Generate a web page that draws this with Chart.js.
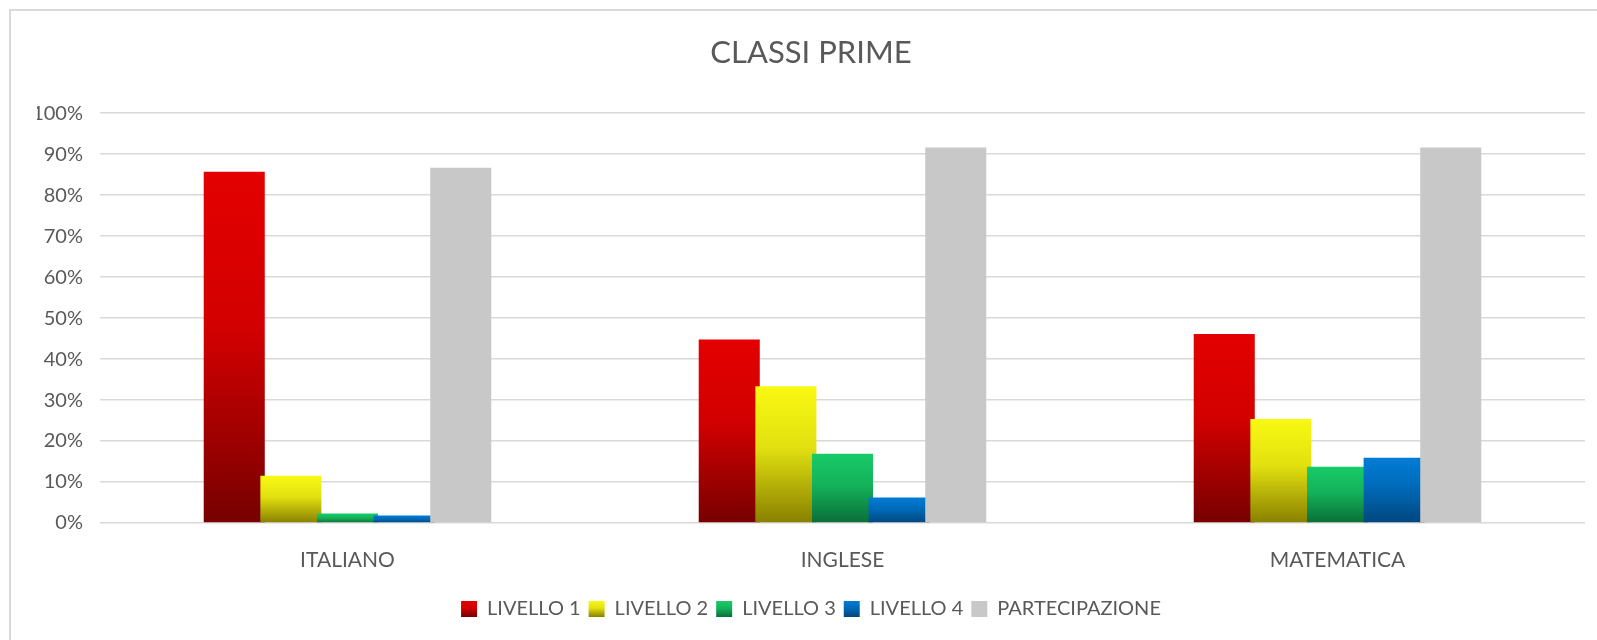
<!DOCTYPE html>
<html lang="it">
<head>
    <meta charset="UTF-8">
    <title>Classi prime</title>
    <script src="https://cdn.jsdelivr.net/npm/chart.js"></script>
    <style>
        html, body {
            margin: 0;
            padding: 0;
            background: #ffffff;
            overflow: hidden;
        }
        .frame {
            position: absolute;
            left: 9px;
            top: 9px;
            width: 1600px;
            height: 640px;
            border-left: 2px solid #d9d9d9;
            border-top: 2px solid #d9d9d9;
        }
        .chart-box {
            position: relative;
            width: 1574px;
            height: 618px;
        }
    </style>
</head>
<body>
    <div class="frame">
        <div class="chart-box">
            <canvas id="classiChart"></canvas>
        </div>
    </div>

    <script>
        // Dati (percentuali)
        const categories = ['ITALIANO', 'INGLESE', 'MATEMATICA'];
        const seriesNames = ['LIVELLO 1', 'LIVELLO 2', 'LIVELLO 3', 'LIVELLO 4', 'PARTECIPAZIONE'];
        const livello1 = [85.7, 44.8, 46.1];
        const livello2 = [11.5, 33.4, 25.4];
        const livello3 = [2.3, 16.9, 13.7];
        const livello4 = [1.8, 6.2, 15.9];
        const partecipazione = [86.7, 91.6, 91.6];
        const yMax = 100;
        const yStep = 10;

        // colori sfumati (alto -> basso) come in Excel
        const gradients = [
            ['#e30000', '#d20000', '#760000'],
            ['#f9f912', '#e2e010', '#888000'],
            ['#17cb68', '#14b25a', '#0a6e38'],
            ['#007cd6', '#006ab8', '#00467e'],
            ['#c8c8c8', '#c8c8c8', '#c8c8c8']
        ];

        const textColor = '#595959';
        const fontFamily = 'Lato, "Open Sans", sans-serif';

        function barFill(stops) {
            return function (c) {
                const chart = c.chart;
                if (c.type !== 'data' || !chart.chartArea) return stops[0];
                const y = chart.scales.y;
                const g = chart.ctx.createLinearGradient(0, y.getPixelForValue(c.raw), 0, y.getPixelForValue(0));
                g.addColorStop(0, stops[0]);
                g.addColorStop(0.45, stops[1]);
                g.addColorStop(1, stops[2]);
                return g;
            };
        }

        // Excel disegna le serie successive sopra le precedenti
        const drawInOrder = {
            id: 'drawInOrder',
            beforeDatasetsDraw(chart) {
                chart.data.datasets.forEach((d, i) => {
                    chart.getDatasetMeta(i).controller.draw();
                });
                return false;
            }
        };

        // sfumatura anche nei quadratini della legenda
        const legendGradient = {
            id: 'legendGradient',
            beforeDraw(chart) {
                const lg = chart.legend;
                if (!lg || !lg.legendItems) return;
                const bh = lg.options.labels.boxHeight;
                lg.legendItems.forEach((item, i) => {
                    const box = lg.legendHitBoxes[i];
                    if (!box) return;
                    const mid = box.top + box.height / 2;
                    const g = chart.ctx.createLinearGradient(0, mid - bh / 2, 0, mid + bh / 2);
                    g.addColorStop(0, gradients[i][0]);
                    g.addColorStop(0.45, gradients[i][1]);
                    g.addColorStop(1, gradients[i][2]);
                    item.fillStyle = g;
                });
            }
        };

        const values = [livello1, livello2, livello3, livello4, partecipazione];

        const ctx = document.getElementById('classiChart').getContext('2d');
        new Chart(ctx, {
            type: 'bar',
            data: {
                labels: categories,
                datasets: seriesNames.map((name, i) => ({
                    label: name,
                    data: values[i],
                    backgroundColor: barFill(gradients[i]),
                    borderWidth: 0,
                    categoryPercentage: 0.572,
                    barPercentage: 1.078
                }))
            },
            options: {
                responsive: true,
                maintainAspectRatio: false,
                animation: false,
                events: [],
                layout: {
                    padding: { left: 26, right: 0, top: 0, bottom: 0 }
                },
                scales: {
                    x: {
                        grid: { display: false },
                        border: { display: false },
                        ticks: {
                            color: textColor,
                            padding: 17,
                            font: { family: fontFamily, size: 21 }
                        },
                        afterFit(scale) { scale.height = 68; }
                    },
                    y: {
                        min: 0,
                        max: yMax,
                        ticks: {
                            stepSize: yStep,
                            color: textColor,
                            padding: 17,
                            font: { family: fontFamily, size: 20 },
                            callback: (v) => v + '%'
                        },
                        grid: {
                            color: '#d9d9d9',
                            lineWidth: 1.5,
                            drawTicks: false
                        },
                        border: { display: false },
                        afterFit(scale) { scale.width = 63; }
                    }
                },
                plugins: {
                    title: {
                        display: true,
                        text: 'CLASSI PRIME',
                        color: textColor,
                        font: { family: fontFamily, size: 31, weight: 'normal' },
                        padding: { top: 23, bottom: 42 }
                    },
                    legend: {
                        position: 'bottom',
                        labels: {
                            color: textColor,
                            boxWidth: 16,
                            boxHeight: 16,
                            padding: 8,
                            font: { family: fontFamily, size: 20 }
                        }
                    },
                    tooltip: { enabled: false }
                }
            },
            plugins: [drawInOrder, legendGradient]
        });
    </script>
</body>
</html>
